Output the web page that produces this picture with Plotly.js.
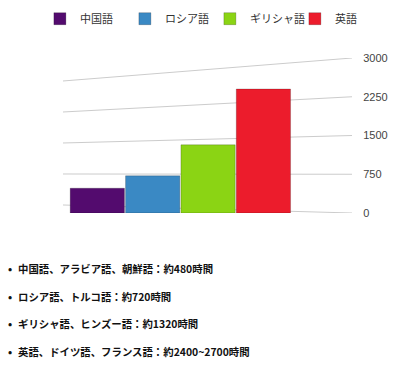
<!DOCTYPE html>
<html><head><meta charset="utf-8">
<script src="https://cdn.plot.ly/plotly-3.0.1.min.js"></script>
<style>
html,body{margin:0;padding:0;background:#fff;width:396px;height:365px;overflow:hidden;}
#chart{position:absolute;left:0;top:-10px;width:396px;height:250px;}
.item{position:absolute;left:8px;font-family:"Noto Sans CJK JP","Noto Sans",sans-serif;font-weight:bold;font-size:10.4px;color:#111;white-space:nowrap;line-height:14px;}
.item span.b{display:inline-block;width:10px;font-size:11px;}
</style></head>
<body>
<div id="chart"></div>
<div id="list"></div>
<script>
var languages = ["中国語", "ロシア語", "ギリシャ語", "英語"];
var hours = [480, 720, 1320, 2400];
var colors = ["#530b6e", "#3a89c4", "#8bd414", "#ec1c2c"];
var tickValues = [0, 750, 1500, 2250, 3000];
var notes = [
  "中国語、アラビア語、朝鮮語：約480時間",
  "ロシア語、トルコ語：約720時間",
  "ギリシャ語、ヒンズー語：約1320時間",
  "英語、ドイツ語、フランス語：約2400~2700時間"
];

var traces = languages.map(function(name, i){
  return {
    type: "bar", name: name, x: [i], y: [hours[i]], width: 0.98,
    marker: {color: colors[i], line: {color: "rgba(0,0,0,0.2)", width: 1}},
    hoverinfo: "skip"
  };
});

// slanted perspective gridlines derived from tick values
var shapes = tickValues.map(function(t){
  return {type: "line", xref: "paper", yref: "y", x0: 0, x1: 1,
    y0: 155 + 0.8 * t, y1: t, line: {color: "#cccccc", width: 1}, layer: "below"};
});

var layout = {
  width: 396, height: 250,
  margin: {l: 63, r: 44, t: 68, b: 27},
  paper_bgcolor: "#fff", plot_bgcolor: "#fff",
  barmode: "overlay",
  showlegend: true,
  legend: {orientation: "h", x: -0.08, xanchor: "left",
    y: 1.16, yanchor: "bottom",
    font: {family: "Noto Sans CJK JP, sans-serif", size: 11, color: "#333"},
    itemwidth: 30, entrywidth: 40, entrywidthmode: "pixels", traceorder: "normal"},
  xaxis: {range: [-0.62, 4.6], showticklabels: false, showgrid: false, zeroline: false, showline: false, ticks: ""},
  yaxis: {side: "right", range: [0, 3000], tickvals: tickValues, showgrid: false, zeroline: false,
    showline: false, ticks: "outside", ticklen: 8, tickcolor: "rgba(0,0,0,0)",
    tickfont: {family: "Liberation Sans, Arial, sans-serif", size: 11, color: "#444"}},
  shapes: shapes
};

Plotly.newPlot("chart", traces, layout, {displayModeBar: false, staticPlot: true});

var list = document.getElementById("list");
notes.forEach(function(t, i){
  var d = document.createElement("div");
  d.className = "item";
  d.style.top = (261 + i * 27.7) + "px";
  d.innerHTML = '<span class="b">•</span>' + t;
  list.appendChild(d);
});
</script>
</body></html>
